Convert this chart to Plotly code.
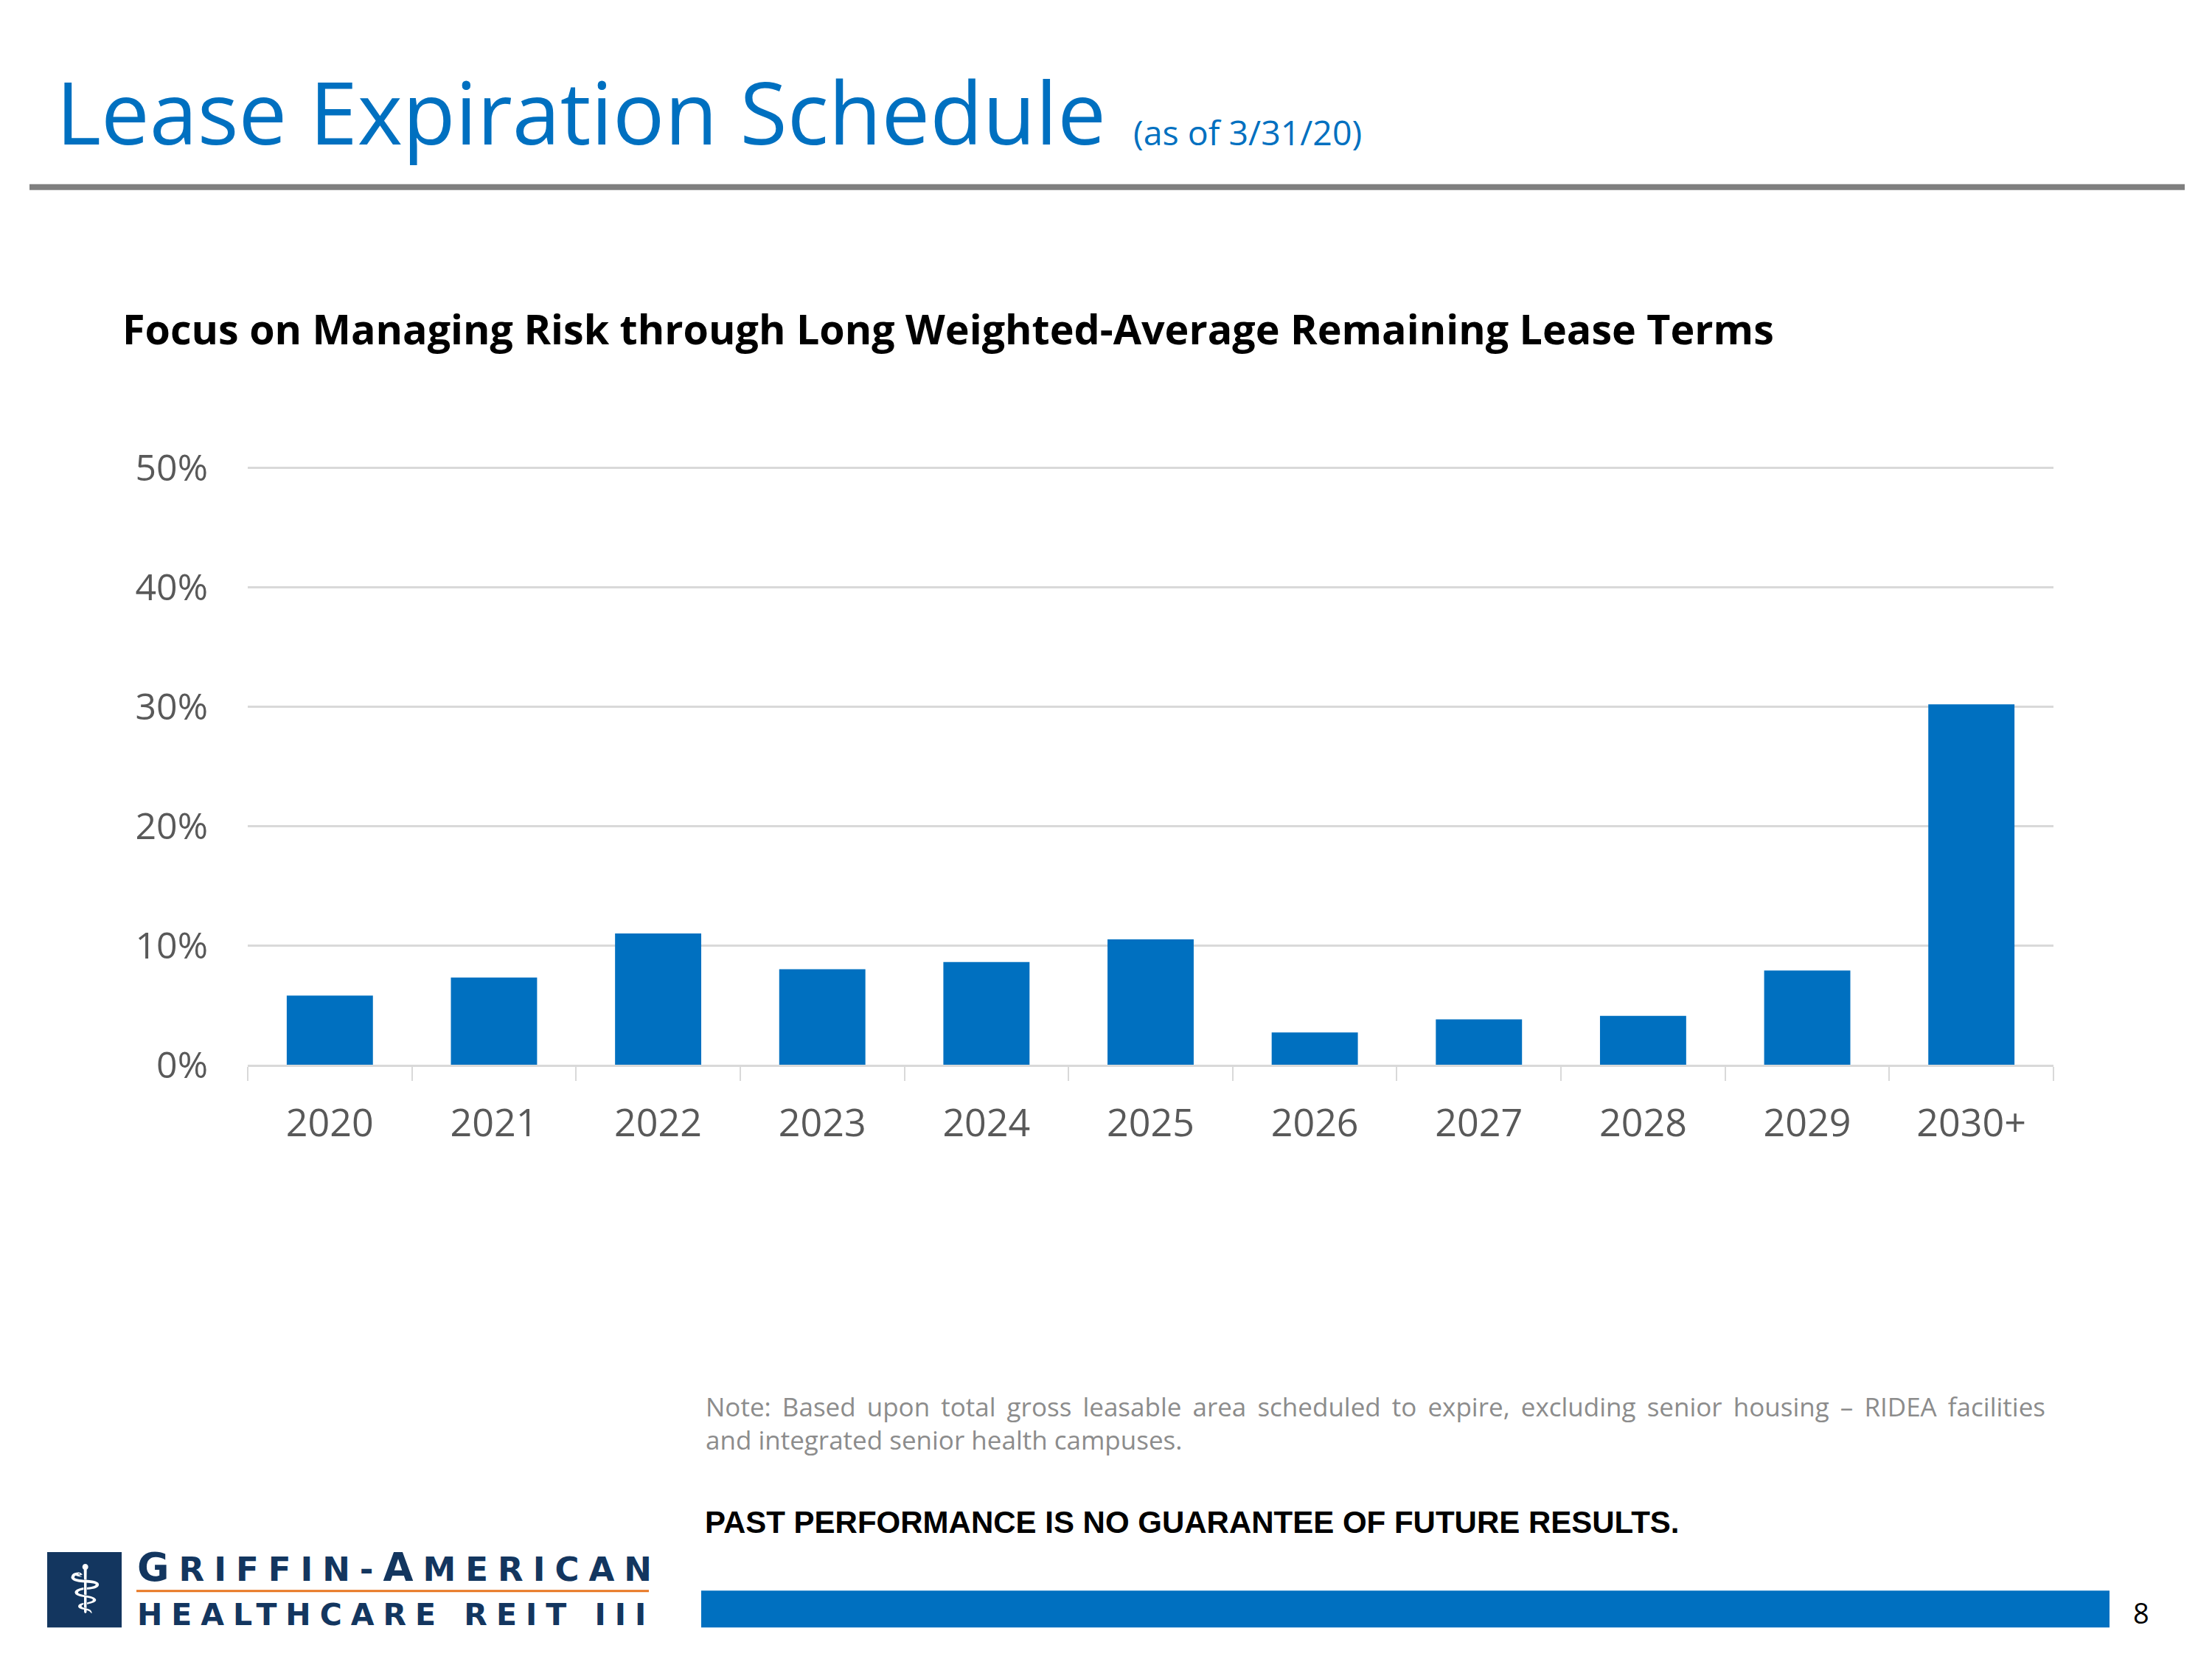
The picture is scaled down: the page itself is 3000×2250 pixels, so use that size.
import plotly.graph_objects as go

years = ["2020", "2021", "2022", "2023", "2024", "2025", "2026", "2027", "2028", "2029", "2030+"]
pct_expiring = [5.8, 7.3, 11.0, 8.0, 8.6, 10.5, 2.7, 3.8, 4.1, 7.9, 30.2]
y_ticks = [0, 10, 20, 30, 40, 50]
y_tick_labels = ["0%", "10%", "20%", "30%", "40%", "50%"]

OFF = 8  # default body margin of the html page
W, H = 3000 - 2 * OFF, 2250 - 2 * OFF
YMAX = 50.3
# page-pixel geometry of the plot area
P_L, P_R, P_50, P_0 = 336, 2785, 635, 1444
unit = (P_0 - P_50) / 50.0
Lf = P_L - OFF
Rf = P_R - OFF
Bf = P_0 - OFF
Tf = Bf - YMAX * unit

def px(x):
    return (x - OFF - Lf) / (Rf - Lf)

def py(y):
    return (Bf - (y - OFF)) / (Bf - Tf)

BLUE = "#0070C0"
NAVY = "#13365F"
FONT = "Open Sans"

fig = go.Figure(go.Bar(
    x=years, y=pct_expiring, marker=dict(color=BLUE, line=dict(width=0)),
    width=0.525,
))

fig.update_layout(
    width=W, height=H,
    margin=dict(l=Lf, r=W - Rf, t=Tf, b=H - Bf, autoexpand=False),
    paper_bgcolor="white", plot_bgcolor="white",
    showlegend=False,
    font=dict(family=FONT, color="#595959"),
)
fig.update_yaxes(
    range=[0, YMAX], tickvals=y_ticks, ticktext=y_tick_labels,
    showgrid=True, gridcolor="#D9D9D9", gridwidth=3,
    zeroline=False, showline=False, ticks="",
    tickfont=dict(size=50, color="#595959", family=FONT),
    ticklabelstandoff=53,
)
fig.update_xaxes(
    showline=True, linecolor="#D9D9D9", linewidth=3,
    ticks="outside", tickson="boundaries", ticklen=19, tickcolor="#D9D9D9", tickwidth=2,
    tickfont=dict(size=52, color="#595959", family=FONT),
    ticklabelstandoff=32,
)

def note(text, x, y, **kw):
    d = dict(text=text, x=px(x), y=py(y), xref="paper", yref="paper", showarrow=False)
    d.update(kw)
    return d

ann = []
ann.append(note("Lease Expiration Schedule", 74, 232, xanchor="left", yanchor="bottom",
                font=dict(size=117, color=BLUE, family=FONT)))
ann.append(note("(as of 3/31/20)", 1535, 213, xanchor="left", yanchor="bottom",
                font=dict(size=46.5, color=BLUE, family=FONT)))
ann.append(note("<b>Focus on Managing Risk through Long Weighted-Average Remaining Lease Terms</b>",
                164, 446, xanchor="left", yanchor="middle",
                font=dict(size=55.6, color="black", family=FONT)))
ann.append(note("<span style='word-spacing:6px'>Note: Based upon total gross leasable area scheduled to expire, excluding senior housing \u2013 RIDEA facilities</span>",
                955, 1907, xanchor="left", yanchor="middle",
                font=dict(size=35, color="#8C8C8C", family=FONT)))
ann.append(note("and integrated senior health campuses.", 955, 1952, xanchor="left", yanchor="middle",
                font=dict(size=35, color="#8C8C8C", family=FONT)))
ann.append(note("<b>PAST PERFORMANCE IS NO GUARANTEE OF FUTURE RESULTS.</b>", 954, 2064,
                xanchor="left", yanchor="middle",
                font=dict(size=42, color="black", family="Liberation Sans")))
ann.append(note("8", 2904, 2187, xanchor="center", yanchor="middle",
                font=dict(size=38, color="black", family=FONT)))
# logo
ann.append(note("<b><span style='letter-spacing:13px'><span style='font-size:53px'>G</span>RIFFIN-"
                "<span style='font-size:53px'>A</span>MERICAN</span></b>",
                184, 2125, xanchor="left", yanchor="middle",
                font=dict(size=45, color=NAVY, family="DejaVu Sans")))
ann.append(note("<b><span style='letter-spacing:12px'>HEALTHCARE REIT III</span></b>",
                184, 2190, xanchor="left", yanchor="middle",
                font=dict(size=41, color=NAVY, family="DejaVu Sans")))
ann.append(note("\u2695", 115, 2155, xanchor="center", yanchor="middle",
                font=dict(size=90, color="white", family="DejaVu Sans")))

def rect(x0, x1, y0, y1, color):
    return dict(type="rect", xref="paper", yref="paper", x0=px(x0), x1=px(x1), y0=py(y0), y1=py(y1),
                fillcolor=color, line=dict(width=0), layer="above")

shapes = [
    rect(40, 2963, 250, 258, "#7F7F7F"),
    rect(951, 2861, 2157, 2207, BLUE),
    rect(64, 165, 2105, 2207, NAVY),
    rect(185, 880, 2156, 2159, "#E87722"),
]

fig.update_layout(annotations=ann, shapes=shapes)
fig.write_html("out.html")
